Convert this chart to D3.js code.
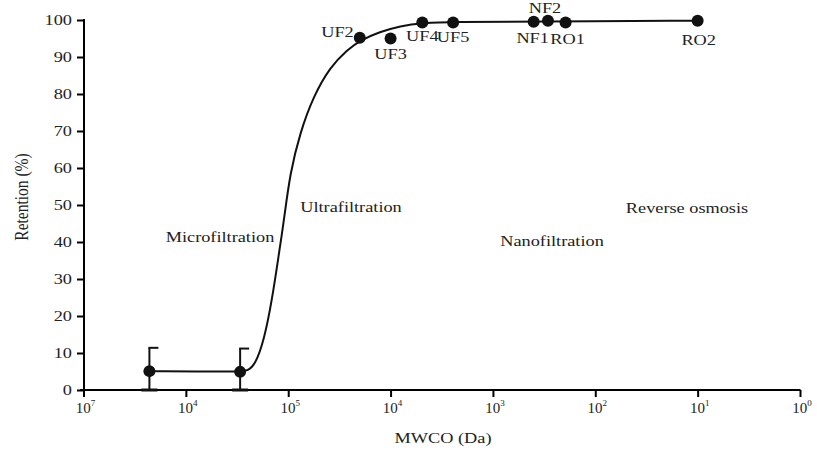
<!DOCTYPE html>
<html>
<head>
<meta charset="utf-8">
<script src="https://cdn.jsdelivr.net/npm/d3@7"></script>
<style>
  body { margin: 0; background: #fff; }
  svg text { font-family: "Liberation Serif", "DejaVu Serif", "Times New Roman", serif !important; fill: #222; }
</style>
</head>
<body>
<div id="chart"></div>
<script>
// membrane samples: MWCO (Da) and retention (%)
var sampleNames = ["", "", "UF2", "UF3", "UF4", "UF5", "NF1", "NF2", "RO1", "RO2"];
var sampleMwco = [2.27e6, 2.95e5, 2.0e4, 1.0e4, 4.9e3, 2.45e3, 400, 290, 195, 10];
var sampleRetention = [5.1, 4.9, 95.2, 95.0, 99.3, 99.3, 99.5, 99.8, 99.3, 99.8];
var sampleError = [6.3, 6.3, 0, 0, 0, 0, 0, 0, 0, 0];

// fitted curve
var curveMwco = [2.27e6, 2.95e5, 2.52e5, 2.10e5, 1.72e5, 1.44e5, 1.23e5, 1.10e5, 9.6e4, 7.66e4,
                 5.71e4, 3.9e4, 2.66e4, 1.99e4, 1.27e4, 8.07e3, 4.9e3, 2.44e3, 400, 9.8];
var curveRetention = [5.1, 4.9, 5.1, 6.8, 13.5, 24.3, 37.0, 45.9, 58.6, 69.5,
                      79.2, 87.3, 91.9, 94.5, 96.8, 98.4, 99.2, 99.5, 99.6, 99.8];

// axis ticks
var xTickValues = [1e7, 1e6, 1e5, 1e4, 1e3, 1e2, 1e1, 1e0];
var xTickExponents = ["7", "4", "5", "4", "3", "2", "1", "0"];
var yTickValues = [0, 10, 20, 30, 40, 50, 60, 70, 80, 90, 100];

// region names
var regionNames = ["Microfiltration", "Ultrafiltration", "Nanofiltration", "Reverse osmosis"];

// label placement for the sample names (pixels relative to point)
var labelPlace = {
  UF2: {dx: -6, dy: -1, anchor: "end"},
  UF3: {dx: 0, dy: 20, anchor: "middle"},
  UF4: {dx: 0, dy: 18, anchor: "middle"},
  UF5: {dx: 0, dy: 19, anchor: "middle"},
  NF1: {dx: -1, dy: 21, anchor: "middle"},
  NF2: {dx: -3, dy: -8, anchor: "middle"},
  RO1: {dx: 2, dy: 21, anchor: "middle"},
  RO2: {dx: 1, dy: 24, anchor: "middle"}
};
var regionPlace = [[220, 242], [351, 212], [552, 246], [687, 213]];

// the reference lettering is a bit wider than it is tall
var stretch = 1.18;
var fontSize = 15.5;

var width = 817, height = 455;
var svg = d3.select("#chart").append("svg")
  .attr("width", width)
  .attr("height", height)
  .attr("font-family", "Liberation Serif, serif");

// put a text at x,y, stretched sideways like the reference
function addText(x, y, str, anchor) {
  return svg.append("text")
    .attr("transform", "translate(" + x + "," + y + ") scale(" + stretch + ",1)")
    .attr("text-anchor", anchor)
    .style("font-size", fontSize + "px")
    .text(str);
}

var xScale = d3.scaleLog().domain([1e7, 1]).range([83.5, 800]);
var yScale = d3.scaleLinear().domain([0, 100]).range([390, 20]);

// x axis
var xAxis = svg.append("g")
  .attr("transform", "translate(0,390)")
  .call(d3.axisBottom(xScale).tickValues(xTickValues).tickSize(7).tickFormat(""));
xAxis.attr("font-family", null);
xAxis.select(".domain").attr("stroke-width", 2).attr("d", "M80,0H800.5");
xAxis.selectAll(".tick line").attr("stroke-width", 2);

// tick labels 10^n with superscript
xTickValues.forEach(function(v, i) {
  var t = svg.append("text")
    .attr("x", xScale(v) + 2)
    .attr("y", 413)
    .attr("text-anchor", "middle")
    .style("font-size", "15px");
  t.append("tspan").text("10");
  t.append("tspan").attr("dy", -7).style("font-size", "9px").text(xTickExponents[i]);
});

// y axis
var yAxis = svg.append("g")
  .attr("transform", "translate(84,0)")
  .call(d3.axisLeft(yScale).tickValues(yTickValues).tickSize(7).tickPadding(4));
yAxis.attr("font-family", null).attr("font-size", null);
yAxis.select(".domain").attr("stroke-width", 2).attr("d", "M0,390V19");
yAxis.selectAll(".tick line").attr("stroke-width", 2);
yAxis.selectAll(".tick text")
  .attr("x", null)
  .attr("transform", "translate(-12,0) scale(" + stretch + ",1)")
  .style("font-size", fontSize + "px")
  .attr("fill", "#222");

// axis titles
addText(443, 443, "MWCO (Da)", "middle");

svg.append("text")
  .attr("transform", "translate(28,197) rotate(-90) scale(1," + stretch + ")")
  .attr("text-anchor", "middle")
  .style("font-size", fontSize + "px")
  .text("Retention (%)");

// region names
regionNames.forEach(function(name, i) {
  addText(regionPlace[i][0], regionPlace[i][1], name, "middle");
});

// fitted curve
var curveData = curveMwco.map(function(m, i) { return [m, curveRetention[i]]; });
var line = d3.line()
  .x(function(d) { return xScale(d[0]); })
  .y(function(d) { return yScale(d[1]); })
  .curve(d3.curveBasis);
svg.append("path")
  .datum(curveData)
  .attr("d", line)
  .attr("fill", "none")
  .attr("stroke", "#111")
  .attr("stroke-width", 2);

var samples = sampleMwco.map(function(m, i) {
  return {name: sampleNames[i], mwco: m, ret: sampleRetention[i], err: sampleError[i]};
});

// error bars
var errs = samples.filter(function(d) { return d.err > 0; });
errs.forEach(function(d) {
  var cx = xScale(d.mwco);
  var top = yScale(d.ret + d.err);
  var bot = yScale(Math.max(0, d.ret - d.err));
  svg.append("line").attr("x1", cx).attr("x2", cx).attr("y1", top).attr("y2", bot)
    .attr("stroke", "#111").attr("stroke-width", 2);
  svg.append("line").attr("x1", cx - 1).attr("x2", cx + 9).attr("y1", top).attr("y2", top)
    .attr("stroke", "#111").attr("stroke-width", 2);
  svg.append("line").attr("x1", cx - 8).attr("x2", cx + 8).attr("y1", bot).attr("y2", bot)
    .attr("stroke", "#111").attr("stroke-width", 3);
});

// points
svg.selectAll(".pt")
  .data(samples)
  .enter()
  .append("circle")
  .attr("class", "pt")
  .attr("cx", function(d) { return xScale(d.mwco); })
  .attr("cy", function(d) { return yScale(d.ret); })
  .attr("r", 6)
  .attr("fill", "#111");

// point labels
samples.filter(function(d) { return d.name; }).forEach(function(d) {
  var p = labelPlace[d.name];
  addText(xScale(d.mwco) + p.dx, yScale(d.ret) + p.dy, d.name, p.anchor);
});
</script>
</body>
</html>
